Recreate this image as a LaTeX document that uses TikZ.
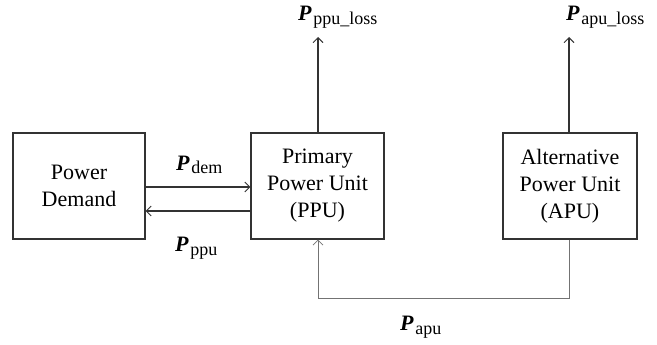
\documentclass[tikz,border=0pt]{standalone}
\usepackage{fontspec}
\setmainfont{Liberation Serif}
\usetikzlibrary{arrows.meta}
\newcommand{\pwr}[1]{{\fontsize{22}{22}\selectfont\bfseries\itshape P}\,{\fontsize{18}{18}\selectfont\raisebox{-3.5pt}{#1}}}
\begin{document}
\begin{tikzpicture}[x=1pt,y=-1pt,
  unitbox/.style={draw=black!80,line width=1.2pt,minimum width=132pt,minimum height=106pt,inner sep=0pt,align=center,font=\fontsize{22}{27}\selectfont},
  flow/.style={draw=black!80,line width=1.1pt,-{Straight Barb[length=5pt,width=10pt,line width=0.9pt]}},
  apuflow/.style={draw=black!55,line width=0.9pt,-{Straight Barb[length=5pt,width=10pt,line width=0.8pt]}},
  lbl/.style={inner sep=0pt,anchor=west}]
\useasboundingbox (0,0) rectangle (657,345);
\node[unitbox] (pd) at (79,186) {Power\\Demand};
\node[unitbox,minimum width=133pt] (ppu) at (317.5,186) {Primary\\Power Unit\\(PPU)};
\node[unitbox,minimum width=134pt] (apu) at (570,186) {Alternative\\Power Unit\\(APU)};
\coordinate (ppuloss) at (318,37);
\coordinate (apuloss) at (569,37);
\coordinate (c1) at (569,298);
\coordinate (c2) at (318,298);
\draw[flow] (ppu.north -| ppuloss) -- (ppuloss);
\draw[flow] (apu.north -| apuloss) -- (apuloss);
\draw[flow] (pd.east |- 0,187) -- (ppu.west |- 0,187);
\draw[flow] (ppu.west |- 0,211) -- (pd.east |- 0,211);
\draw[apuflow] (apu.south -| c1) -- (c1) -- (c2) -- (ppu.south -| c2);
\node[lbl] (lppuloss) at (298,17) {\pwr{ppu\_loss}};
\node[lbl] (lapuloss) at (566,17) {\pwr{apu\_loss}};
\node[lbl] (ldem) at (176,165) {\pwr{dem}};
\node[lbl] (lppu) at (175,248) {\pwr{ppu}};
\node[lbl] (lapu) at (400,327) {\pwr{apu}};
\end{tikzpicture}
\end{document}
